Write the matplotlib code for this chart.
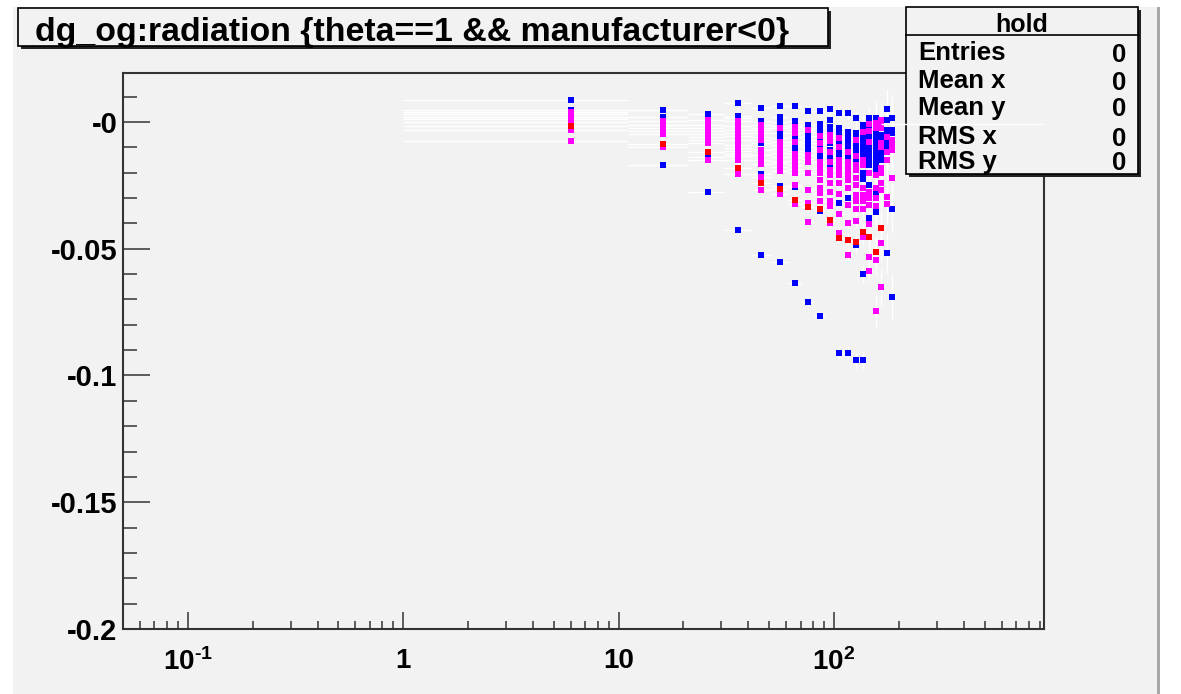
import numpy as np
import matplotlib.pyplot as plt
from matplotlib.patches import Rectangle
from matplotlib.ticker import FixedLocator, LogLocator, MultipleLocator, NullFormatter

plt.rcParams['font.family'] = ['Liberation Sans', 'DejaVu Sans']
plt.rcParams['font.weight'] = 'bold'
plt.rcParams['mathtext.fontset'] = 'custom'
plt.rcParams['mathtext.rm'] = 'Liberation Sans:bold'
plt.rcParams['mathtext.bf'] = 'Liberation Sans:bold'
plt.rcParams['mathtext.default'] = 'bf'

# ---- data ----
title = "dg_og:radiation {theta==1 && manufacturer<0}"
stats_name = "hold"
stats_labels = ["Entries", "Mean x", "Mean y", "RMS x", "RMS y"]
stats_values = ["0", "0", "0", "0", "0"]

ytick_vals = [0.0, -0.05, -0.1, -0.15, -0.2]
ytick_labels = ["-0", "-0.05", "-0.1", "-0.15", "-0.2"]
xtick_vals = [0.1, 1, 10, 100]
xtick_labels = [r"$10^{\text{-1}}$", "1", "10", r"$10^{2}$"]

# bin centres, half width in x, and y errors per bin
col_x = [6, 16, 26, 36, 46, 56, 66, 76, 86, 96, 106, 116, 126, 136, 146, 156, 166, 176, 186]
x_half = 5
col_yerr = [0.0008, 0.0008, 0.001, 0.001, 0.001, 0.0012, 0.0012, 0.0015, 0.0015, 0.002,
            0.002, 0.0025, 0.003, 0.0035, 0.004, 0.006, 0.007, 0.008, 0.009]

blue_y = [
    [0.0086, 0.0047],
    [0.0046, 0.0020, -0.0170],
    [0.0033, -0.0137, -0.0276],
    [0.0074, 0.0025, 0.0015, -0.0136, -0.0425],
    [0.0056, 0.0004, -0.0030, -0.0083, -0.0205, -0.0524],
    [0.0062, 0.0020, 0.0001, -0.0015, -0.0043, -0.0062, -0.0251, -0.0554],
    [0.0063, 0.0004, -0.0012, -0.0030, -0.0060, -0.0090, -0.0115, -0.0258, -0.0635],
    [0.0045, -0.0012, -0.0025, -0.0040, -0.0055, -0.0070, -0.0085, -0.0100, -0.0115, -0.0710],
    [0.0045, -0.0010, -0.0025, -0.0040, -0.0070, -0.0100, -0.0125, -0.0140, -0.0353, -0.0764],
    [0.0050, 0.0008, -0.0020, -0.0035, -0.0065, -0.0085, -0.0110, -0.0130, -0.0150, -0.0170],
    [0.0034, -0.0024, -0.0040, -0.0055, -0.0075, -0.0095, -0.0110, -0.0125, -0.0140, -0.0320, -0.0913],
    [0.0034, -0.0040, -0.0055, -0.0070, -0.0085, -0.0100, -0.0115, -0.0130, -0.0150, -0.0300, -0.0910],
    [0.0015, -0.0045, -0.0060, -0.0080, -0.0100, -0.0120, -0.0155, -0.0485, -0.0940],
    [-0.0012, -0.0030, -0.0050, -0.0070, -0.0090, -0.0110, -0.0130, -0.0200, -0.0225, -0.0600, -0.0939],
    [0.0017, -0.0025, -0.0045, -0.0065, -0.0085, -0.0105, -0.0125, -0.0145, -0.0170, -0.0250, -0.0378],
    [0.0017, -0.0015, -0.0035, -0.0055, -0.0075, -0.0095, -0.0115, -0.0135, -0.0155, -0.0175, -0.0195, -0.0275, -0.0355],
    [-0.0050, -0.0065, -0.0120, -0.0135, -0.0150],
    [0.0051, 0.0008, -0.0030, -0.0050, -0.0080, -0.0100, -0.0517],
    [0.0016, -0.0030, -0.0045, -0.0343, -0.0689],
]

magenta_y = [
    [0.0040, 0.0030, 0.0020, 0.0010, 0.0000, -0.0030, -0.0077],
    [0.0004, -0.0012, -0.0024, -0.0036, -0.0048, -0.0098],
    [0.0008, -0.0012, -0.0024, -0.0036, -0.0048, -0.0060, -0.0072, -0.0083, -0.0152],
    [0.0005, -0.0018, -0.0030, -0.0042, -0.0054, -0.0070, -0.0090, -0.0102, -0.0114, -0.0126, -0.0150, -0.0205],
    [-0.0012, -0.0024, -0.0045, -0.0060, -0.0071, -0.0110, -0.0130, -0.0150, -0.0165, -0.0218, -0.0268],
    [-0.0024, -0.0078, -0.0090, -0.0105, -0.0122, -0.0140, -0.0154, -0.0162, -0.0178, -0.0193, -0.0284],
    [-0.0020, -0.0045, -0.0080, -0.0125, -0.0140, -0.0155, -0.0170, -0.0185, -0.0200, -0.0250, -0.0323],
    [-0.0030, -0.0130, -0.0145, -0.0160, -0.0200, -0.0270, -0.0320, -0.0396],
    [-0.0055, -0.0085, -0.0112, -0.0160, -0.0180, -0.0200, -0.0230, -0.0260, -0.0280, -0.0310],
    [-0.0050, -0.0075, -0.0120, -0.0160, -0.0190, -0.0210, -0.0240, -0.0275, -0.0310, -0.0330, -0.0400],
    [-0.0065, -0.0100, -0.0150, -0.0170, -0.0190, -0.0210, -0.0240, -0.0285, -0.0363, -0.0438],
    [-0.0120, -0.0160, -0.0175, -0.0190, -0.0210, -0.0230, -0.0260, -0.0328, -0.0400, -0.0525],
    [-0.0070, -0.0135, -0.0170, -0.0190, -0.0220, -0.0250, -0.0290, -0.0310, -0.0343, -0.0389],
    [-0.0040, -0.0150, -0.0170, -0.0260, -0.0290, -0.0310, -0.0345, -0.0455],
    [-0.0010, -0.0035, -0.0080, -0.0200, -0.0275, -0.0300, -0.0327, -0.0402, -0.0531, -0.0588],
    [-0.0005, -0.0025, -0.0210, -0.0260, -0.0300, -0.0330, -0.0545, -0.0747],
    [0.0008, -0.0010, -0.0025, -0.0085, -0.0100, -0.0180, -0.0200, -0.0240, -0.0270, -0.0477, -0.0652],
    [-0.0060, -0.0120, -0.0150, -0.0296, -0.0325],
    [-0.0070, -0.0090, -0.0110, -0.0220],
]

red_y = [
    [-0.0016], [-0.0088], [-0.0118], [-0.0181], [-0.0240], [-0.0263], [-0.0308],
    [-0.0334], [-0.0343], [-0.0387], [-0.0457], [-0.0465], [-0.0472], [-0.0433],
    [-0.0454], [-0.0514], [-0.0419], [], [],
]

# one point whose x error runs off to the right frame
long_x, long_y, long_xlo, long_xhi = 186, -0.0008, 20, 900

W, H = 1181, 694


def fx(x):
    return x / W


def fy(y):
    return 1 - y / H


fig = plt.figure(figsize=(W / 100, H / 100), dpi=100)
fig.patch.set_facecolor('white')

# ROOT canvas
fig.add_artist(Rectangle((fx(13), fy(694)), fx(1157) - fx(13), fy(7) - fy(694),
                         facecolor='#f2f2f2', edgecolor='none', zorder=-10))
fig.add_artist(Rectangle((fx(1157), fy(694)), fx(3), fy(7) - fy(694),
                         facecolor='#a8a8a8', edgecolor='none', zorder=-9))

ax = fig.add_axes([fx(123), fy(629), fx(1044) - fx(123), fy(73) - fy(629)])
ax.set_facecolor('none')
ax.set_xscale('log')
ax.set_xlim(0.05, 944)
ax.set_ylim(-0.2, 0.0193)

series = [('#0000ff', blue_y), ('#ff00ff', magenta_y), ('#ff0000', red_y)]
for color, cols in series:
    xs, ys, es = [], [], []
    for i, col in enumerate(cols):
        for v in col:
            xs.append(col_x[i])
            ys.append(v)
            es.append(col_yerr[i])
    ax.errorbar(xs, ys, xerr=x_half, yerr=es, fmt='none', ecolor='white',
                elinewidth=1.0, capsize=0, zorder=2)
for color, cols in series:
    xs = [col_x[i] for i, col in enumerate(cols) for _ in col]
    ys = [v for col in cols for v in col]
    ax.plot(xs, ys, 's', color=color, ms=4.6, mew=0, zorder=3)

for sp in ax.spines.values():
    sp.set_color('#333333')
    sp.set_linewidth(1.5)

ax.yaxis.set_major_locator(FixedLocator(ytick_vals))
ax.set_yticklabels(ytick_labels)
ax.yaxis.set_minor_locator(MultipleLocator(0.01))
ax.xaxis.set_major_locator(FixedLocator(xtick_vals))
ax.set_xticklabels(xtick_labels)
ax.xaxis.set_minor_locator(LogLocator(base=10, subs=np.arange(2, 10) * 1.0, numticks=50))
ax.xaxis.set_minor_formatter(NullFormatter())

ax.tick_params(axis='y', which='major', direction='in', length=19.5, width=1.1,
               color='#333333', right=False, labelsize=21, pad=4)
ax.tick_params(axis='y', which='minor', direction='in', length=9.8, width=1.1,
               color='#333333', right=False)
ax.tick_params(axis='x', which='major', direction='in', length=12, width=1.1,
               color='#333333', top=False, labelsize=20, pad=14)
ax.tick_params(axis='x', which='minor', direction='in', length=6, width=1.1,
               color='#333333', top=False)

# title pave
fig.add_artist(Rectangle((fx(21), fy(49)), fx(810), fy(8) - fy(46),
                         facecolor='#222222', edgecolor='none', zorder=4))
fig.add_artist(Rectangle((fx(18), fy(46)), fx(810), fy(8) - fy(46),
                         facecolor='#f2f2f2', edgecolor='black', linewidth=1.2, zorder=5))
fig.text(fx(35), fy(29), title, fontsize=24.4, fontweight='bold', ha='left', va='center_baseline', zorder=6)

# stats pave
fig.add_artist(Rectangle((fx(909), fy(177)), fx(232), fy(7) - fy(174),
                         facecolor='#222222', edgecolor='none', zorder=4))
fig.add_artist(Rectangle((fx(906), fy(174)), fx(232), fy(7) - fy(174),
                         facecolor='#f2f2f2', edgecolor='black', linewidth=1.2, zorder=5))
fig.add_artist(plt.Line2D([fx(906), fx(1138)], [fy(35), fy(35)], color='black', lw=1.2, zorder=6))
fig.text(fx(1022), fy(22), stats_name, fontsize=18, fontweight='bold', ha='center',
         va='center_baseline', zorder=6)
row_y = [51, 79, 105, 135, 160]
for lab, val, ry in zip(stats_labels, stats_values, row_y):
    fig.text(fx(918), fy(ry), lab, fontsize=18.5, fontweight='bold', ha='left',
             va='center_baseline', zorder=6)
    fig.text(fx(1126), fy(ry + 1), val, fontsize=18.5, fontweight='bold', ha='right',
             va='center_baseline', zorder=6)

# overlay for the long error bar that crosses the stats box
ax2 = fig.add_axes(ax.get_position(), zorder=10)
ax2.set_xscale('log')
ax2.set_xlim(ax.get_xlim())
ax2.set_ylim(ax.get_ylim())
ax2.axis('off')
ax2.errorbar([long_x], [long_y], xerr=[[long_xlo], [long_xhi]], fmt='none',
             ecolor='white', elinewidth=1.0, capsize=0)

fig.savefig('out.png', dpi=100, facecolor=fig.get_facecolor())
